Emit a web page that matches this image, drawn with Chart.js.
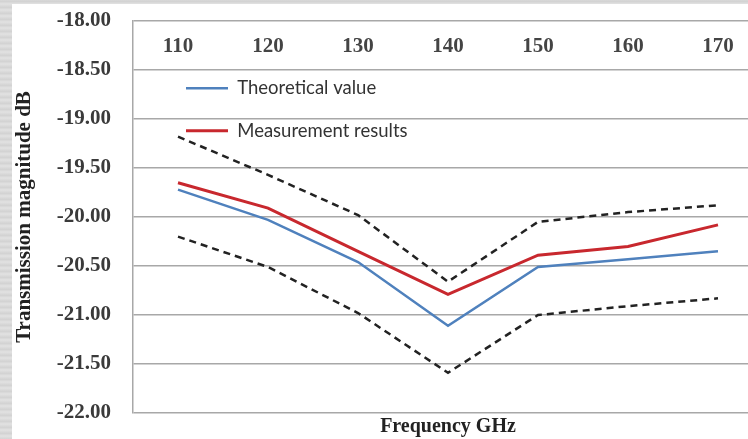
<!doctype html>
<html>

<head>
    <title>Transmission magnitude</title>
    <script src="https://cdn.jsdelivr.net/npm/chart.js"></script>
    <style>
        body {
            margin: 0;
            width: 748px;
            height: 439px;
            overflow: hidden;
            background: repeating-linear-gradient(0deg, #d4d4d4 0px, #e2e2e2 3px, #d0d0d0 6px);
        }

        #box {
            position: absolute;
            left: 12px;
            top: 4px;
            width: 770px;
            height: 435px;
            background: #fff;
        }
    </style>
</head>

<body>

    <div id="box">
        <canvas id="grafico"></canvas>
    </div>

    <script>
        // frequency (GHz) and transmission magnitude (dB)
        var frequencias = ['110', '120', '130', '140', '150', '160', '170'];
        var teorico = [-19.72, -20.03, -20.46, -21.11, -20.51, -20.43, -20.35];
        var medido = [-19.65, -19.91, -20.35, -20.79, -20.39, -20.30, -20.08];
        var limiteSuperior = [-19.18, -19.57, -19.98, -20.66, -20.05, -19.95, -19.88];
        var limiteInferior = [-20.20, -20.51, -20.98, -21.59, -21.00, -20.91, -20.83];
        var yMin = -22;
        var yMax = -18;
        var yPasso = 0.5;

        var serifa = 'Liberation Serif, Times New Roman, serif';
        var cinza = '#a8a8a8';

        // moves the legend inside the plot, like the original
        var posLegenda = {
            id: 'posLegenda',
            afterLayout(chart) {
                var area = chart.chartArea;
                chart.legend.left = area.left + 29;
                chart.legend.top = area.top + 34;
            }
        };

        var grafico = new Chart(document.getElementById('grafico').getContext('2d'), {
            type: 'line',
            data: {
                labels: frequencias,
                datasets: [{
                    label: 'Theoretical value',
                    data: teorico,
                    borderColor: '#4f81bd',
                    backgroundColor: '#4f81bd',
                    borderWidth: 2.5
                }, {
                    label: 'Measurement results',
                    data: medido,
                    borderColor: '#c8282e',
                    backgroundColor: '#c8282e',
                    borderWidth: 3
                }, {
                    label: 'upper',
                    data: limiteSuperior,
                    borderColor: '#222',
                    borderWidth: 2.5,
                    borderDash: [7, 5]
                }, {
                    label: 'lower',
                    data: limiteInferior,
                    borderColor: '#222',
                    borderWidth: 2.5,
                    borderDash: [7, 5]
                }]
            },
            options: {
                responsive: true,
                maintainAspectRatio: false,
                animation: false,
                layout: {
                    padding: { top: 17, right: 19, left: 0, bottom: 0 }
                },
                elements: {
                    point: { radius: 0 },
                    line: { tension: 0 }
                },
                plugins: {
                    tooltip: { enabled: false },
                    legend: {
                        position: 'chartArea',
                        align: 'start',
                        labels: {
                            boxWidth: 42,
                            boxHeight: 0,
                            padding: 24,
                            color: '#333',
                            font: { family: 'Lato, Carlito, sans-serif', size: 18.5 },
                            filter: item => item.datasetIndex < 2
                        }
                    }
                },
                scales: {
                    x: {
                        type: 'category',
                        position: 'bottom',
                        offset: true,
                        grid: { display: false, drawTicks: false },
                        border: { display: false },
                        ticks: { display: false },
                        title: {
                            display: true,
                            text: 'Frequency GHz',
                            color: '#222',
                            font: { family: serifa, size: 20, weight: 'bold' },
                            padding: { top: 2, bottom: 0 }
                        }
                    },
                    x2: {
                        type: 'category',
                        position: { y: yMax },
                        offset: true,
                        grid: { display: false, drawTicks: false },
                        border: { display: false },
                        ticks: {
                            padding: 13,
                            color: '#444',
                            maxRotation: 0,
                            font: { family: serifa, size: 21, weight: 'bold' }
                        }
                    },
                    y: {
                        min: yMin,
                        max: yMax,
                        afterFit: s => { s.width = 121; },
                        grid: { color: cinza, lineWidth: 1.5, tickLength: 19, tickColor: 'transparent' },
                        border: { display: true, color: cinza, width: 1.5 },
                        ticks: {
                            stepSize: yPasso,
                            padding: 3,
                            color: '#3a3a3a',
                            font: { family: serifa, size: 21, weight: 'bold' },
                            callback: v => v.toFixed(2)
                        },
                        title: {
                            display: true,
                            text: 'Transmission magnitude dB',
                            color: '#222',
                            font: { family: serifa, size: 21, weight: 'bold' },
                            padding: 0
                        }
                    }
                }
            },
            plugins: [posLegenda]
        });
    </script>
</body>

</html>
